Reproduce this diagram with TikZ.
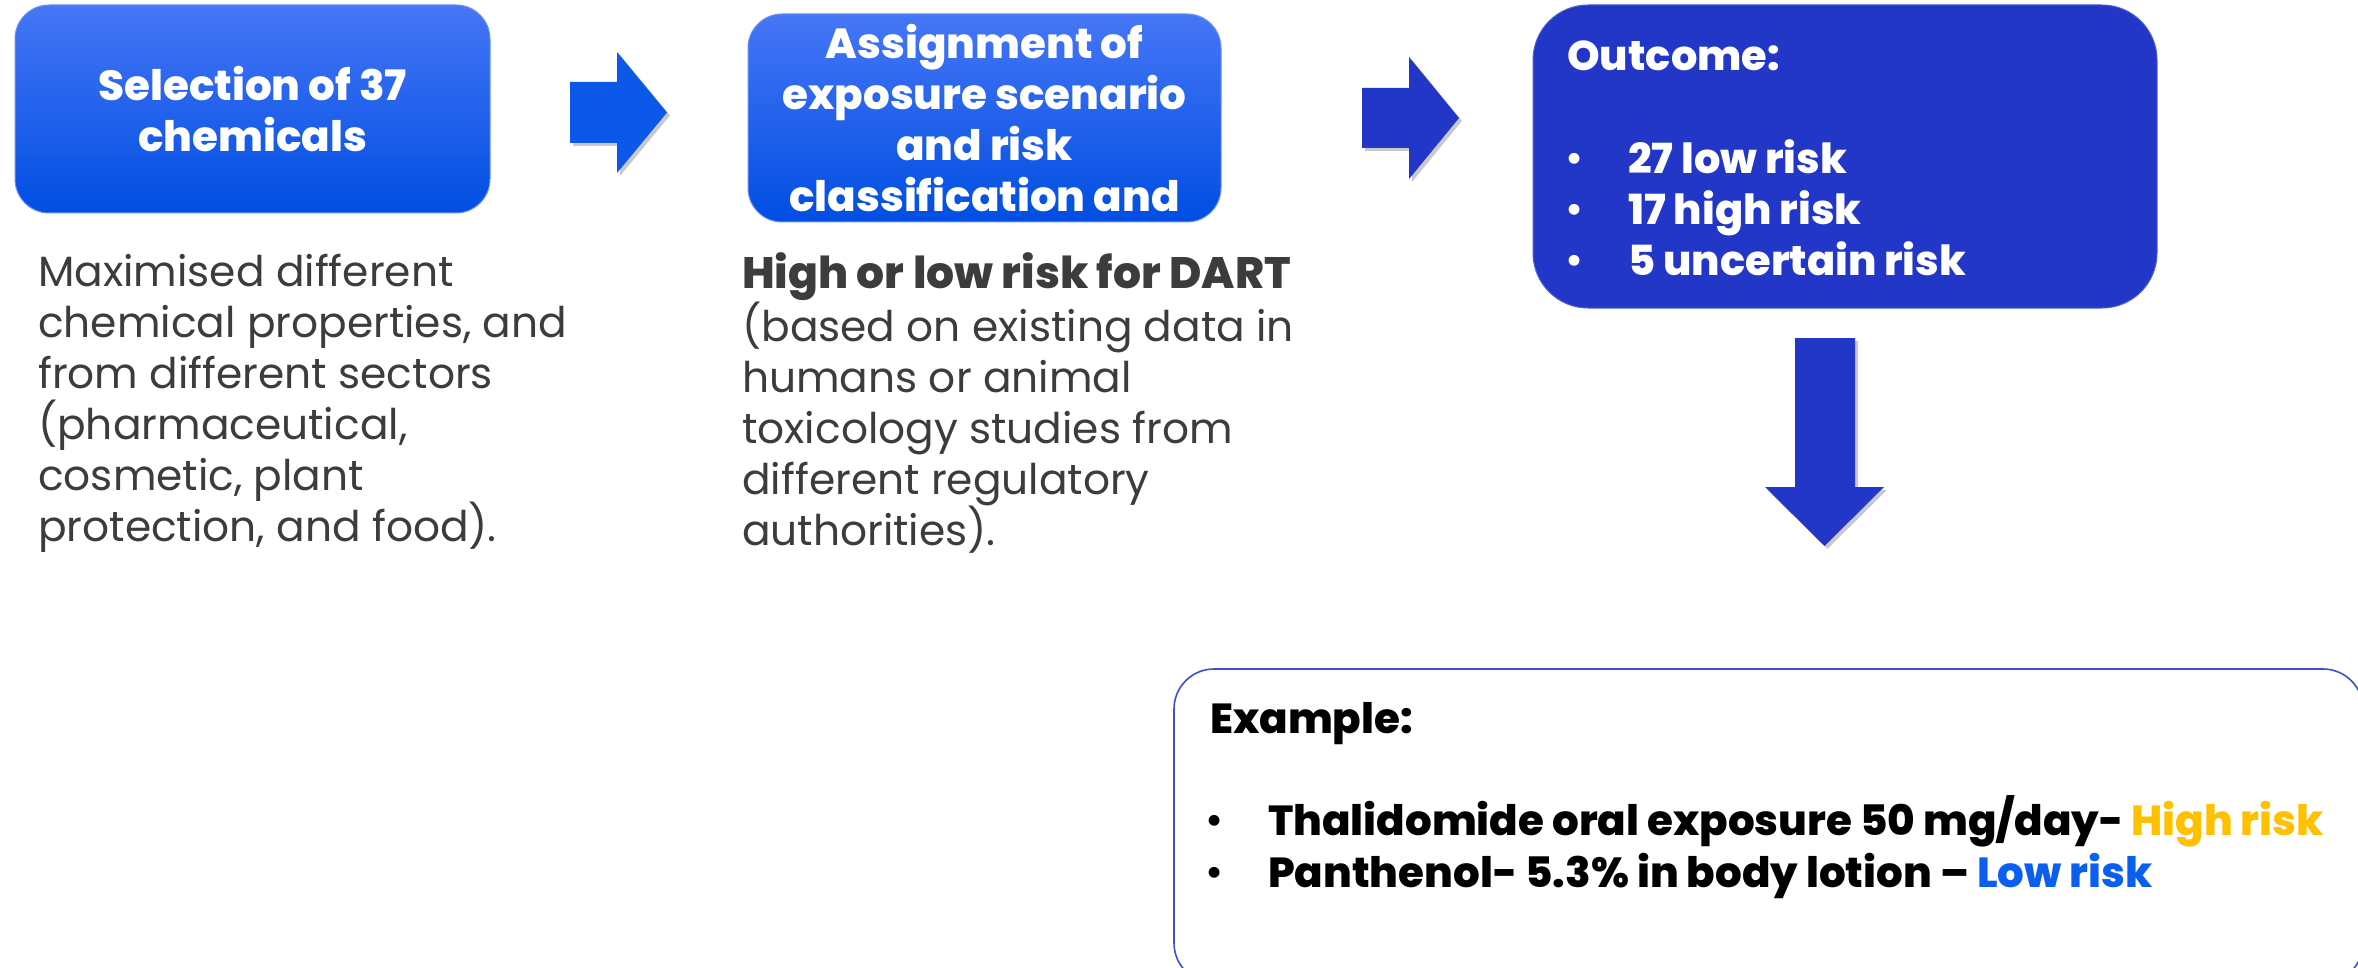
\documentclass[tikz,border=0pt]{standalone}
\usepackage{fontspec}
\setmainfont{Poppins}
\newfontfamily\heavyfam{Poppins}[UprightFont=* ExtraBold, BoldFont=* ExtraBold]
\usetikzlibrary{shadows}

\definecolor{boxtop}{RGB}{70,118,246}
\definecolor{boxbot}{RGB}{0,78,226}
\definecolor{flowblue}{RGB}{12,88,232}
\definecolor{deepblue}{RGB}{34,54,200}
\definecolor{frameblue}{RGB}{60,80,210}
\definecolor{bodygray}{RGB}{60,60,60}
\definecolor{hirisk}{RGB}{255,192,0}
\definecolor{lorisk}{RGB}{11,95,240}

\newcommand{\hdfont}{\fontsize{42}{51}\selectfont\heavyfam}
\newcommand{\bdfont}{\fontsize{42.3}{51}\selectfont}
\newcommand{\itfont}{\fontsize{41.5}{51}\selectfont\heavyfam}
\newcommand{\exfont}{\fontsize{42}{51}\selectfont\heavyfam}
\newcommand{\dotfont}{\fontsize{44}{44}\selectfont}

\begin{document}
\begin{tikzpicture}[x=1pt,y=-1pt,
  gradbox/.style={rounded corners=34pt, inner sep=0pt, align=center,
    text=white, font=\hdfont, top color=boxtop, bottom color=boxbot,
    draw=boxtop!80!white, line width=1pt},
  darkbox/.style={rounded corners=55pt, inner sep=0pt, fill=deepblue,
    draw=deepblue!80!white, line width=1pt},
  framebox/.style={rounded corners=40pt, inner sep=0pt, draw=frameblue,
    line width=1.6pt, fill=white},
  bodytext/.style={inner sep=0pt, anchor=base west, text=bodygray, font=\bdfont},
  itemtext/.style={inner sep=0pt, anchor=base west, font=\itfont},
  extext/.style={inner sep=0pt, anchor=base west, font=\exfont},
  bullet/.style={inner sep=0pt, anchor=base, font=\dotfont},
  blockarrow/.style={draw=none, drop shadow={opacity=0.3, shadow xshift=3pt,
    shadow yshift=-3pt, fill=black!70}}
]
\useasboundingbox (0,0) rectangle (2358,968);

% step boxes
\node[gradbox, minimum width=475pt, minimum height=208pt] (sel) at (252.5,109)
  {Selection of 37\\chemicals};
\node[gradbox, minimum width=473pt, minimum height=208pt] (asg) at (984.5,118)
  {Assignment of\\exposure scenario\\and risk\\classification and};
\node[darkbox, minimum width=624pt, minimum height=303pt] (out) at (1845,156.5) {};
\node[framebox, minimum width=1189pt, minimum height=314pt] (ex) at (1768.5,826) {};

% block arrows between the steps
\fill[flowblue, blockarrow] (570,82) -- (617,82) -- (617,52) -- (667,112.5)
  -- (617,173) -- (617,143) -- (570,143) -- cycle;
\fill[deepblue, blockarrow] (1362,88) -- (1409,88) -- (1409,57) -- (1459,118)
  -- (1409,179) -- (1409,148) -- (1362,148) -- cycle;
\fill[deepblue, blockarrow] (1795,338) -- (1855,338) -- (1855,487) -- (1884,487)
  -- (1824.5,546) -- (1765,487) -- (1795,487) -- cycle;

% notes under the first two steps
\node[bodytext] (selnote) at (38,287) {\vtop{%
  \hbox{Maximised different}
  \hbox{chemical properties, and}
  \hbox{from different sectors}
  \hbox{(pharmaceutical,}
  \hbox{cosmetic, plant}
  \hbox{protection, and food).}}};
\node[bodytext] (asgnote) at (742,289) {\vtop{%
  \hbox{\fontsize{44}{51}\selectfont\heavyfam High or low risk for DART}
  \hbox{(based on existing data in}
  \hbox{humans or animal}
  \hbox{toxicology studies from}
  \hbox{different regulatory}
  \hbox{authorities).}}};

% outcome list
\node[itemtext, text=white] (outhead) at (1567,71) {Outcome:};
\node[bullet, text=white] (ob1) at (1575,174) {•};
\node[itemtext, text=white] (oi1) at (1628,174) {27 low risk};
\node[bullet, text=white] (ob2) at (1575,225) {•};
\node[itemtext, text=white] (oi2) at (1628,225) {17 high risk};
\node[bullet, text=white] (ob3) at (1575,276) {•};
\node[itemtext, text=white] (oi3) at (1628,276) {5 uncertain risk};

% example list
\node[extext, text=black] (exhead) at (1210,733) {Example:};
\node[bullet, text=black] (eb1) at (1215,835) {•};
\node[extext, text=black] (ei1) at (1268,835)
  {Thalidomide oral exposure 50 mg/day- \textcolor{hirisk}{High risk}};
\node[bullet, text=black] (eb2) at (1215,887) {•};
\node[extext, text=black] (ei2) at (1268,887)
  {Panthenol- 5.3\% in body lotion – \textcolor{lorisk}{Low risk}};
\end{tikzpicture}
\end{document}
